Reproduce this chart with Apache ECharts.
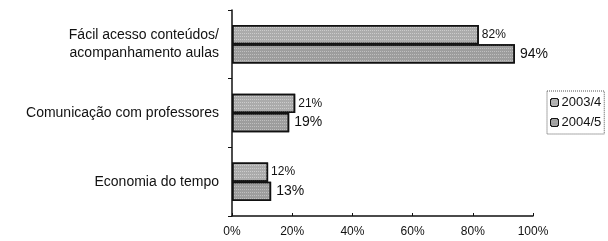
<!DOCTYPE html>
<html><head><meta charset="utf-8">
<script src="https://cdn.jsdelivr.net/npm/echarts@6/dist/echarts.min.js"></script>
<style>html,body{margin:0;padding:0;background:#fff}#c{width:608px;height:241px}</style>
</head><body><div id="c"></div>
<script>
const categories = ['Fácil acesso conteúdos/\nacompanhamento aulas', 'Comunicação com professores', 'Economia do tempo'];
const seriesNames = ['2003/4', '2004/5'];
const values2003 = [82, 21, 12];
const values2004 = [94, 19, 13];
const xTicks = [0, 20, 40, 60, 80, 100];

const chart = echarts.init(document.getElementById('c'), null, {renderer: 'canvas'});
const font = 'Liberation Sans, Arial, sans-serif';
function mkSeries(name, data, color, fs, dist, dec) {
  return {
    name, type: 'bar', data,
    barGap: '0%', barCategoryGap: '44%',
    itemStyle: {color, borderColor: '#111', borderWidth: 1.5,
      decal: {symbol: 'rect', symbolSize: 1, dashArrayX: [1, 1], dashArrayY: [1, 2], color: dec, rotation: 0}},
    label: {show: true, position: 'right', distance: dist, formatter: '{c}%', color: '#111', fontFamily: font, fontSize: fs}
  };
}
chart.setOption({
  animation: false,
  grid: {left: 232, right: 75, top: 10, bottom: 25},
  legend: {
    orient: 'vertical', left: 547, top: 91, itemWidth: 8, itemHeight: 8, itemGap: 7,
    borderColor: '#555', borderWidth: 1, borderType: 'dotted', padding: [5, 3, 5, 3],
    textStyle: {fontFamily: font, fontSize: 13, color: '#111', padding: [0, 0, 0, -2]},
    itemStyle: {borderColor: '#111', borderWidth: 1},
    data: seriesNames
  },
  xAxis: {
    type: 'value', min: 0, max: 100, interval: 20,
    axisLine: {show: true, lineStyle: {color: '#111', width: 1.5}},
    axisTick: {show: true, length: 3, inside: true, lineStyle: {color: '#111'}},
    splitLine: {show: false},
    axisLabel: {formatter: v => xTicks.includes(v) ? v + '%' : '', color: '#111', fontFamily: font, fontSize: 12, margin: 10}
  },
  yAxis: {
    type: 'category', data: categories, inverse: true,
    axisLine: {show: true, lineStyle: {color: '#111', width: 1.5}},
    axisTick: {show: true, length: 4, lineStyle: {color: '#111'}},
    axisLabel: {color: '#111', fontFamily: font, fontSize: 14, margin: 13, align: 'right', lineHeight: 18}
  },
  series: [
    mkSeries(seriesNames[0], values2003, '#ababab', 12, 3, 'rgba(255,255,255,0.4)'),
    mkSeries(seriesNames[1], values2004, '#9d9d9d', 14, 5, 'rgba(255,255,255,0.35)')
  ]
});
</script></body></html>
